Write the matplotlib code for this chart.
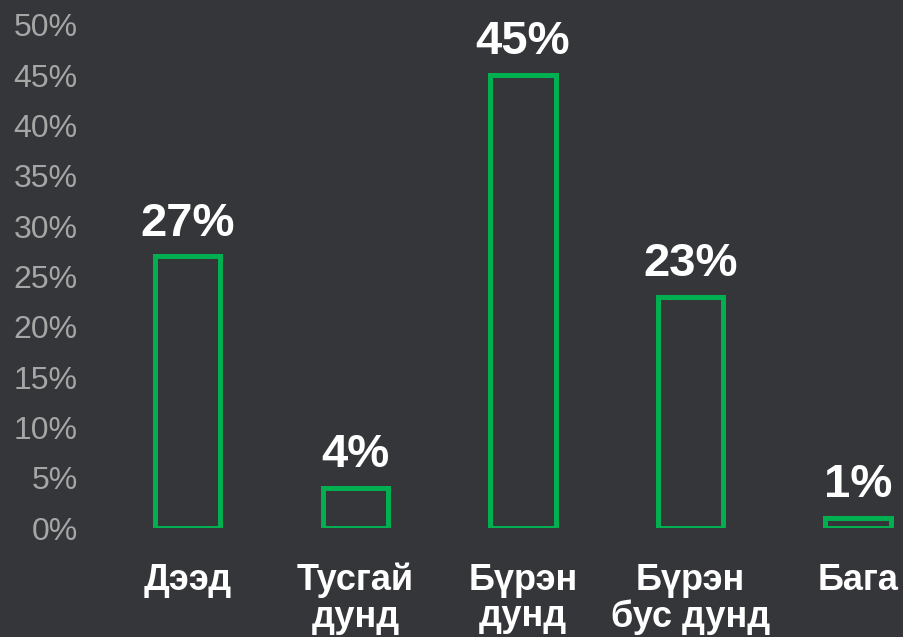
import matplotlib.pyplot as plt

categories = ["Дээд", "Тусгай\nдунд", "Бүрэн\nдунд", "Бүрэн\nбус дунд", "Бага"]
shares = [0.27, 0.04, 0.45, 0.23, 0.01]
value_labels = ["27%", "4%", "45%", "23%", "1%"]
y_ticks = [0.0, 0.05, 0.10, 0.15, 0.20, 0.25, 0.30, 0.35, 0.40, 0.45, 0.50]
y_tick_labels = ["0%", "5%", "10%", "15%", "20%", "25%", "30%", "35%", "40%", "45%", "50%"]

bg = "#35363a"
green = "#00b050"

plt.rcParams['font.family'] = ['Liberation Sans', 'DejaVu Sans']

fig = plt.figure(figsize=(9.04, 6.37), dpi=100, facecolor=bg)
ax = fig.add_axes([104 / 904, 109 / 637, 800 / 904, 503 / 637])
ax.set_facecolor(bg)

x = list(range(len(categories)))
ax.bar(x, shares, width=0.39, facecolor=bg, edgecolor=green, linewidth=3.6)

for xi, v, lab in zip(x, shares, value_labels):
    ax.annotate(lab, (xi, v), xytext=(0, 15), textcoords="offset points",
                ha="center", va="baseline", color="white", fontsize=34,
                fontweight="bold")

ax.set_xlim(-0.5, (904 - 188) / 167.5)
ax.set_ylim(0, 0.5)
ax.set_yticks(y_ticks)
ax.set_yticklabels(y_tick_labels)
ax.set_xticks(x)
ax.set_xticklabels(categories, fontweight="bold", linespacing=1.06)
ax.tick_params(axis="y", length=0, pad=19, labelsize=23, labelcolor="#a6a6a6")
ax.tick_params(axis="x", length=0, pad=25, labelsize=26, labelcolor="white")
for s in ax.spines.values():
    s.set_visible(False)

fig.savefig("out.png", dpi=100, facecolor=bg)
